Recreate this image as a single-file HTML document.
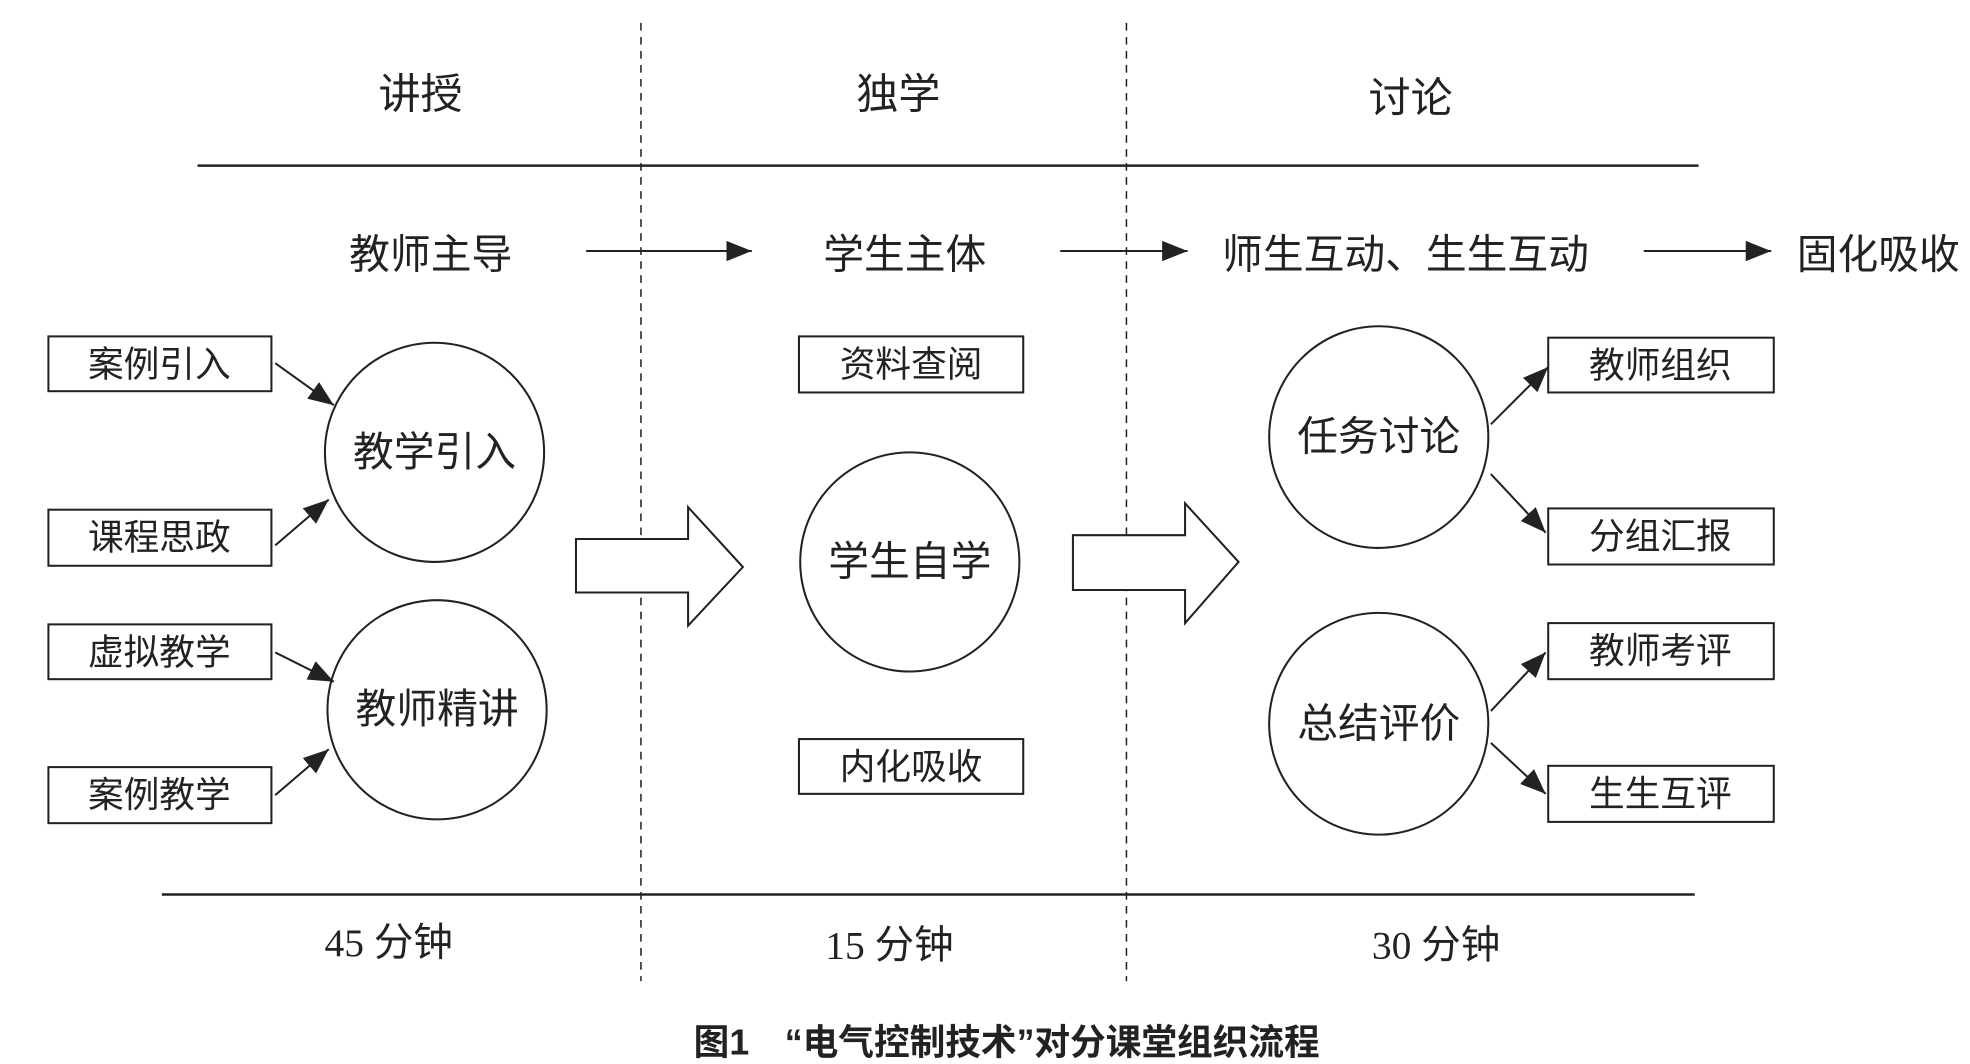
<!DOCTYPE html>
<html><head><meta charset="utf-8"><style>
html,body{margin:0;padding:0;background:#fff;}
svg{display:block;}
text{font-family:"Liberation Serif","Noto Sans CJK SC",sans-serif;fill:#222;text-anchor:middle;dominant-baseline:central;}
</style></head><body>
<svg width="1970" height="1064" viewBox="0 0 1546 835" preserveAspectRatio="none" xmlns="http://www.w3.org/2000/svg">
<defs>
<marker id="b" markerWidth="20" markerHeight="16" refX="20" refY="8" orient="auto" markerUnits="userSpaceOnUse"><path d="M0,0 L20,8 L0,16 z" fill="#222"/></marker></defs>
<g stroke="#222" fill="none" stroke-width="1.6">
<line x1="503" y1="18" x2="503" y2="770" stroke-dasharray="6,5" stroke-width="1.2"/>
<line x1="884" y1="18" x2="884" y2="770" stroke-dasharray="6,5" stroke-width="1.2"/>
<line x1="155" y1="130" x2="1333" y2="130" stroke-width="2"/>
<line x1="127" y1="702" x2="1330" y2="702" stroke-width="2"/>
<line x1="460" y1="197" x2="590" y2="197" marker-end="url(#b)"/>
<line x1="832" y1="197" x2="932" y2="197" marker-end="url(#b)"/>
<line x1="1290" y1="197" x2="1390" y2="197" marker-end="url(#b)"/>
<rect x="38" y="264" width="175" height="43"/>
<rect x="38" y="400" width="175" height="44"/>
<rect x="38" y="490" width="175" height="43"/>
<rect x="38" y="602" width="175" height="44"/>
<circle cx="341" cy="355" r="86"/>
<circle cx="343" cy="557" r="86"/>
<g marker-end="url(#b)"><line x1="216" y1="285" x2="262" y2="318"/><line x1="216" y1="428" x2="258" y2="392"/><line x1="216" y1="512" x2="262" y2="535"/><line x1="216" y1="624" x2="258" y2="588"/></g>
<path d="M452,423 H540 V398 L583,445 L540,491 V465 H452 Z" fill="#fff"/>
<rect x="627" y="264" width="176" height="44"/>
<circle cx="714" cy="441" r="86"/>
<rect x="627" y="580" width="176" height="43"/>
<path d="M842,420 H930 V395 L972,441 L930,489 V463 H842 Z" fill="#fff"/>
<ellipse cx="1082" cy="343" rx="86" ry="87"/>
<ellipse cx="1082" cy="568" rx="86" ry="87"/>
<rect x="1215" y="265" width="177" height="43"/>
<rect x="1215" y="399" width="177" height="44"/>
<rect x="1215" y="489" width="177" height="44"/>
<rect x="1215" y="601" width="177" height="44"/>
<g marker-end="url(#b)"><line x1="1170" y1="333" x2="1215" y2="288"/><line x1="1170" y1="372" x2="1213" y2="418"/><line x1="1170" y1="558" x2="1213" y2="512"/><line x1="1170" y1="583" x2="1213" y2="623"/></g>
</g>
<g font-size="33">
<text x="330" y="75">讲授</text><text x="705" y="75">独学</text><text x="1107" y="78">讨论</text>
</g>
<g font-size="32">
<text x="338" y="200">教师主导</text><text x="710" y="200">学生主体</text><text x="1103" y="200">师生互动、生生互动</text><text x="1474" y="200">固化吸收</text>
<text x="341" y="355">教学引入</text><text x="343" y="557">教师精讲</text><text x="714" y="441">学生自学</text>
<text x="1082" y="343">任务讨论</text><text x="1082" y="568">总结评价</text>
</g>
<g font-size="31">
<text x="305" y="740">45 分钟</text><text x="698" y="742">15 分钟</text><text x="1127" y="742">30 分钟</text>
</g>
<g font-size="28">
<text x="125" y="286">案例引入</text><text x="125" y="422">课程思政</text><text x="125" y="512">虚拟教学</text><text x="125" y="624">案例教学</text>
<text x="715" y="286">资料查阅</text><text x="715" y="602">内化吸收</text>
<text x="1303" y="287">教师组织</text><text x="1303" y="421">分组汇报</text><text x="1303" y="511">教师考评</text><text x="1303" y="623">生生互评</text>
</g>
<text x="790" y="818" font-size="28" font-weight="bold" style="font-family:'Liberation Sans','Noto Sans CJK SC',sans-serif">图1　“电气控制技术”对分课堂组织流程</text>
</svg>
</body></html>
